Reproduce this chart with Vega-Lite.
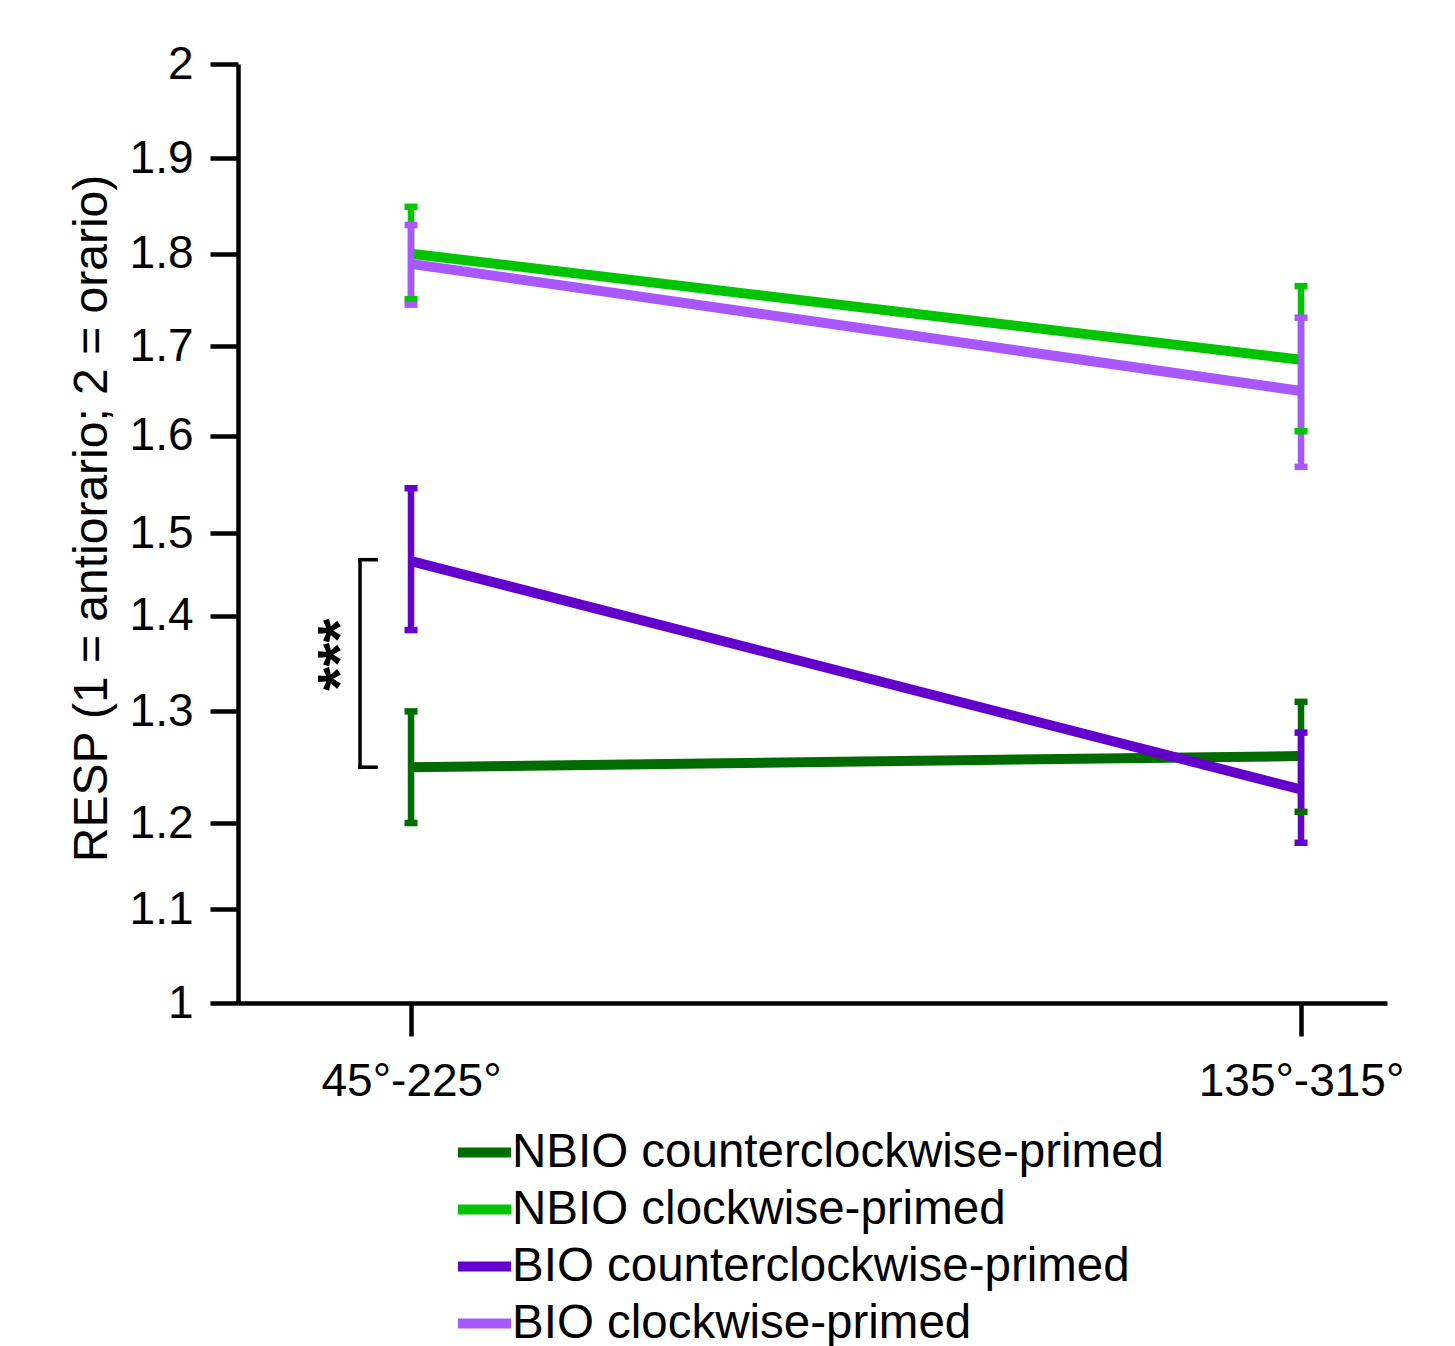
{
  "$schema": "https://vega.github.io/schema/vega-lite/v6.json",
  "autosize": {"type": "none"},
  "padding": {"left": 238, "top": 64, "right": 68, "bottom": 343},
  "width": 1149,
  "height": 939,
  "background": "white",
  "config": {
    "view": {"stroke": null},
    "axis": {"grid": false, "domainColor": "black", "tickColor": "black", "labelColor": "black", "titleColor": "black", "labelFont": "Liberation Sans", "titleFont": "Liberation Sans"},
    "legend": {"labelFont": "Liberation Sans"}
  },
  "datasets": {
    "means": [
      {"series": "NBIO counterclockwise-primed", "cond": 1, "mean": 1.25, "lo": 1.2, "hi": 1.3},
      {"series": "NBIO counterclockwise-primed", "cond": 2, "mean": 1.26, "lo": 1.21, "hi": 1.31},
      {"series": "NBIO clockwise-primed", "cond": 1, "mean": 1.8, "lo": 1.751, "hi": 1.849},
      {"series": "NBIO clockwise-primed", "cond": 2, "mean": 1.685, "lo": 1.605, "hi": 1.765},
      {"series": "BIO counterclockwise-primed", "cond": 1, "mean": 1.466, "lo": 1.385, "hi": 1.546},
      {"series": "BIO counterclockwise-primed", "cond": 2, "mean": 1.23, "lo": 1.177, "hi": 1.281},
      {"series": "BIO clockwise-primed", "cond": 1, "mean": 1.789, "lo": 1.745, "hi": 1.83},
      {"series": "BIO clockwise-primed", "cond": 2, "mean": 1.65, "lo": 1.568, "hi": 1.731}
    ],
    "bracket": [
      {"x": 0.9427, "x2": 0.9427, "y": 1.25, "y2": 1.4677},
      {"x": 0.9427, "x2": 0.9607, "y": 1.25, "y2": 1.25},
      {"x": 0.9427, "x2": 0.9607, "y": 1.4677, "y2": 1.4677}
    ],
    "stars": [
      {"x": 0.9218, "y": 1.3592, "label": "***"}
    ]
  },
  "layer": [
    {
      "data": {"name": "means"},
      "mark": {"type": "line", "strokeWidth": 10, "strokeCap": "butt"},
      "encoding": {
        "x": {
          "field": "cond", "type": "quantitative",
          "scale": {"domain": [0.8056, 2.0966], "nice": false, "zero": false},
          "axis": {
            "values": [1, 2],
            "labelExpr": "datum.value == 1 ? '45°-225°' : '135°-315°'",
            "title": null,
            "domainWidth": 4.5,
            "tickWidth": 4.5,
            "tickSize": 33,
            "labelFontSize": 46,
            "labelPadding": 23,
            "labelLimit": 1000,
            "labelFlush": false,
            "labelOverlap": false
          }
        },
        "y": {
          "field": "mean", "type": "quantitative",
          "scale": {
            "domain": [1, 1.1, 1.2, 1.3, 1.4, 1.5, 1.6, 1.7, 1.8, 1.9, 2],
            "range": [939, 845, 759, 647.4, 551.7, 469, 371.7, 282.4, 189.7, 94, 0],
            "nice": false, "zero": false
          },
          "axis": {
            "values": [1, 1.1, 1.2, 1.3, 1.4, 1.5, 1.6, 1.7, 1.8, 1.9, 2],
            "format": "~g",
            "title": "RESP (1 = antiorario; 2 = orario)",
            "titleFont": "Liberation Sans",
            "titleFontSize": 48,
            "titleFontWeight": "normal",
            "titleAngle": 270,
            "titleAlign": "center",
            "titleBaseline": "alphabetic",
            "titleX": -132,
            "titleY": 454,
            "titleLimit": 2000,
            "domainWidth": 4.5,
            "tickWidth": 4.5,
            "tickSize": 28,
            "labelFontSize": 46,
            "labelPadding": 17,
            "labelFlush": false,
            "labelOverlap": false
          }
        },
        "color": {
          "field": "series", "type": "nominal",
          "scale": {
            "domain": ["NBIO counterclockwise-primed", "NBIO clockwise-primed", "BIO counterclockwise-primed", "BIO clockwise-primed"],
            "range": ["#006b00", "#00c400", "#6400cb", "#a957ff"]
          },
          "legend": {
            "title": null,
            "orient": "none",
            "legendX": 215,
            "legendY": 1057,
            "direction": "vertical",
            "symbolType": "stroke",
            "symbolSize": 2809,
            "symbolStrokeWidth": 10,
            "labelFontSize": 47.5,
            "labelColor": "black",
            "labelOffset": -4,
            "labelLimit": 1000,
            "rowPadding": 2,
            "padding": 0
          }
        }
      }
    },
    {
      "data": {"name": "means"},
      "mark": {"type": "rule", "strokeWidth": 6.5},
      "encoding": {
        "x": {"field": "cond", "type": "quantitative"},
        "y": {"field": "lo", "type": "quantitative"},
        "y2": {"field": "hi"},
        "color": {"field": "series", "type": "nominal"}
      }
    },
    {
      "data": {"name": "means"},
      "mark": {"type": "tick", "orient": "horizontal", "size": 13, "thickness": 6.5, "opacity": 1},
      "encoding": {
        "x": {"field": "cond", "type": "quantitative"},
        "y": {"field": "lo", "type": "quantitative"},
        "color": {"field": "series", "type": "nominal"}
      }
    },
    {
      "data": {"name": "means"},
      "mark": {"type": "tick", "orient": "horizontal", "size": 13, "thickness": 6.5, "opacity": 1},
      "encoding": {
        "x": {"field": "cond", "type": "quantitative"},
        "y": {"field": "hi", "type": "quantitative"},
        "color": {"field": "series", "type": "nominal"}
      }
    },
    {
      "data": {"name": "bracket"},
      "mark": {"type": "rule", "strokeWidth": 3.5, "color": "black", "strokeCap": "square"},
      "encoding": {
        "x": {"field": "x", "type": "quantitative"},
        "x2": {"field": "x2"},
        "y": {"field": "y", "type": "quantitative"},
        "y2": {"field": "y2"}
      }
    },
    {
      "data": {"name": "stars"},
      "mark": {"type": "text", "angle": 270, "fontSize": 62, "fontWeight": "bold", "font": "Liberation Sans", "align": "center", "baseline": "middle", "color": "black"},
      "encoding": {
        "x": {"field": "x", "type": "quantitative"},
        "y": {"field": "y", "type": "quantitative"},
        "text": {"field": "label"}
      }
    }
  ]
}
